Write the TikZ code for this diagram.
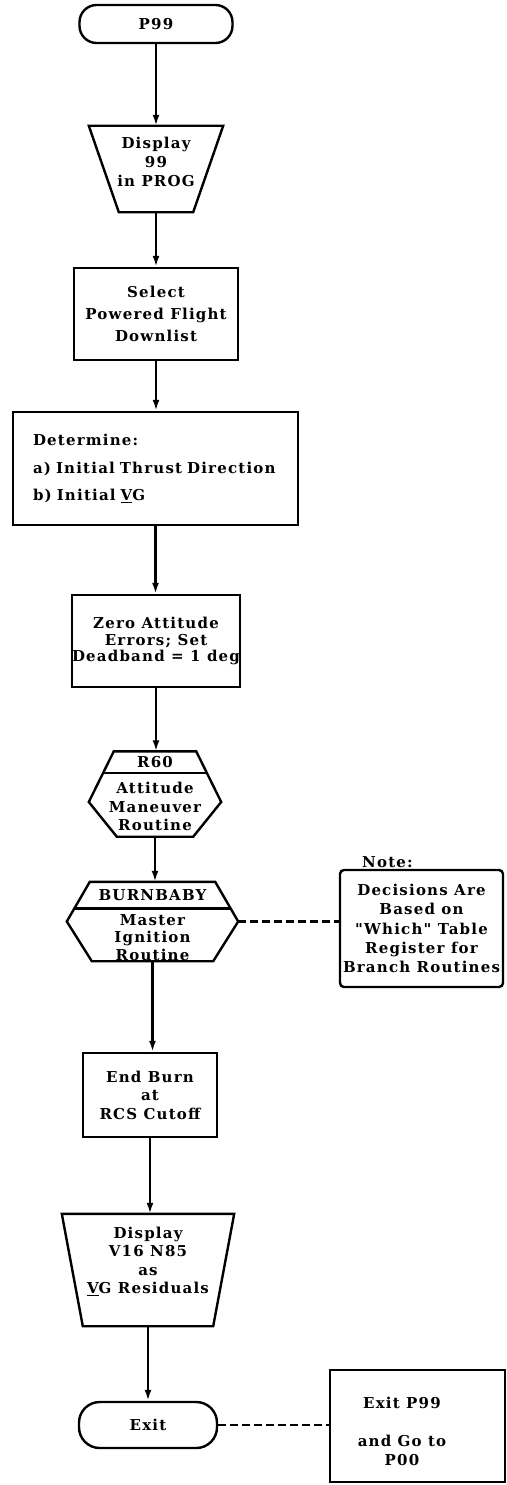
\documentclass[tikz,border=0pt]{standalone}
\usepackage{fontspec}
\setmainfont{DejaVu Serif}[LetterSpace=8, Ligatures=TeXOff]
\usetikzlibrary{arrows.meta,calc}

\begin{document}
\begin{tikzpicture}[x=1pt, y=-1pt, line width=2.4pt,
  every node/.style={font=\fontsize{15}{18.5}\selectfont\bfseries, align=center, inner sep=0pt},
  terminal/.style 2 args={draw, rounded corners=0.45*#2, minimum width=#1, minimum height=#2},
  procbox/.style 2 args={draw, minimum width=#1, minimum height=#2},
  outline/.style 2 args={minimum width=#1, minimum height=#2},
  flow/.style={-{Latex[length=11pt,width=7pt]}},
  link/.style={dash pattern=on 8pt off 4pt}]
  \useasboundingbox[fill=white] (0,0) rectangle (506,1485);

  \node[terminal={153pt}{38pt}] (p99) at (156,24) {P99};

  \node[outline={132pt}{84pt}] (disp99) at (156,169) {};
  \draw (disp99.north west) -- (disp99.north east) -- ([xshift=-30pt]disp99.south east) -- ([xshift=30pt]disp99.south west) -- cycle;
  \node[anchor=north, font=\fontsize{15}{19}\selectfont\bfseries] (disp99 text) at ([yshift=-10pt]disp99.north) {Display\\99\\in PROG};

  \node[procbox={164pt}{92pt}, font=\fontsize{15}{22}\selectfont\bfseries] (select) at (156,314) {Select\\Powered Flight\\Downlist};

  \node[procbox={285pt}{113pt}, align=left, text width=245pt, inner xsep=20pt] (determine) at (155.5,468.5)
    {Determine:\\[9pt]a) Initial Thrust Direction\\[9pt]b) Initial \underline{V}G};

  \node[procbox={164pt}{92pt}, font=\fontsize{15}{16.5}\selectfont\bfseries] (zero) at (156,641) {Zero Attitude\\Errors; Set\\Deadband = 1 deg};

  \node[outline={130pt}{83pt}] (r60) at (155,794) {};
  \draw ([xshift=25pt]r60.north west) coordinate (r60 a) -- ([xshift=-25pt]r60.north east) coordinate (r60 b)
    -- ([yshift=-8pt]r60.east) coordinate (r60 c) -- ([xshift=-28pt]r60.south east)
    -- ([xshift=28pt]r60.south west) -- ([yshift=-8pt]r60.west) coordinate (r60 d) -- cycle;
  \draw ($(r60 a)!0.43!(r60 d)$) -- ($(r60 b)!0.43!(r60 c)$);
  \node (r60 head) at ([yshift=-11pt]r60.north) {R60};
  \node (r60 text) at (155,806.5) {Attitude\\Maneuver\\Routine};

  \node[outline={169pt}{77pt}] (burnbaby) at (152.5,921.5) {};
  \draw ([xshift=23pt]burnbaby.north west) coordinate (bb a) -- ([xshift=-23pt]burnbaby.north east) coordinate (bb b)
    -- (burnbaby.east) coordinate (bb c) -- ([xshift=-25pt]burnbaby.south east)
    -- ([xshift=25pt]burnbaby.south west) -- (burnbaby.west) coordinate (bb d) -- cycle;
  \draw ($(bb a)!0.675!(bb d)$) -- ($(bb b)!0.675!(bb c)$);
  \node (bb head) at ([yshift=-13pt]burnbaby.north) {BURNBABY};
  \node[font=\fontsize{15}{17.5}\selectfont\bfseries] (bb text) at (152.5,937.5) {Master\\Ignition\\Routine};

  \node[anchor=west] (note head) at (361,862) {Note:};
  \node[procbox={163pt}{117pt}, rounded corners=4pt, font=\fontsize{15}{19.3}\selectfont\bfseries] (note) at (421.5,928.5)
    {Decisions Are\\Based on\\"Which" Table\\Register for\\Branch Routines};

  \node[procbox={134pt}{84pt}] (endburn) at (150,1095) {End Burn\\at\\RCS Cutoff};

  \node[outline={170pt}{110pt}] (disp85) at (148,1270) {};
  \draw (disp85.north west) -- (disp85.north east) -- ([xshift=-21pt]disp85.south east) -- ([xshift=21pt]disp85.south west) -- cycle;
  \node[anchor=north] (disp85 text) at ([yshift=-12pt]disp85.north) {Display\\V16 N85\\as\\\underline{V}G Residuals};

  \node[terminal={138pt}{46pt}] (exit) at (148,1425) {Exit};

  \node[procbox={175pt}{112pt}] (exitbox) at (417.5,1426) {};
  \node (exitbox text) at (402,1431) {Exit P99\\[20pt]and Go to\\P00};

  \foreach \a/\b in {p99/disp99, disp99/select, select/determine, determine/zero, zero/r60,
                     r60/burnbaby, burnbaby/endburn, endburn/disp85, disp85/exit}
    \draw[flow] (\a.south) -- (\a.south |- \b.north);

  \draw[link] (burnbaby.east) -- (burnbaby.east -| note.west);
  \draw[link] (exit.east) -- (exit.east -| exitbox.west);
\end{tikzpicture}
\end{document}
